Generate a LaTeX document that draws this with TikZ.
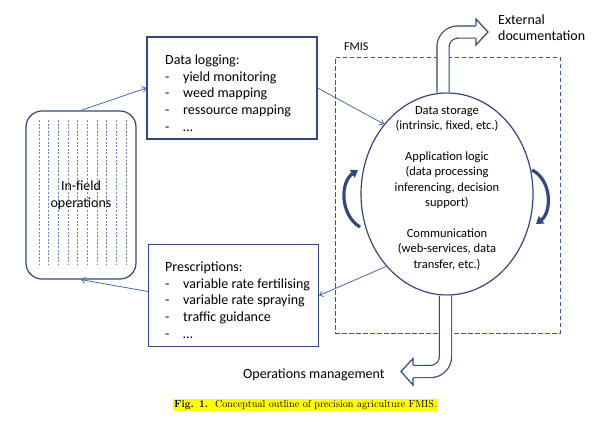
\documentclass[tikz,border=0pt]{standalone}
\usepackage{fontspec}
\newfontfamily\calfont{Carlito}
\usetikzlibrary{arrows.meta,positioning,shapes.geometric}

%colours
\definecolor{boxnavy}{RGB}{50,72,125}
\definecolor{linkblue}{RGB}{72,104,180}
\definecolor{fieldblue}{RGB}{105,128,196}
\definecolor{fmisblue}{RGB}{60,84,158}
\definecolor{marker}{RGB}{255,255,0}

%dash in front of a list item
\newcommand{\listdash}{\makebox[18pt][l]{-}}

\tikzset{
  plain/.style={inner sep=0pt, align=left, font=\calfont\fontsize{14}{16.8}\selectfont},
  listbox/.style={draw=boxnavy, line width=1.2pt, minimum width=170pt, minimum height=102pt, inner sep=0pt},
  listtext/.style={plain, anchor=base west},
  fieldbox/.style={draw=boxnavy, line width=1.2pt, rounded corners=16pt, minimum width=110pt,
    minimum height=168pt, align=center, font=\calfont\fontsize{14}{17}\selectfont},
  fieldline/.style={fieldblue, line width=0.6pt, dash pattern=on 2pt off 1.6pt},
  fmisbox/.style={draw=fmisblue, line width=1pt, dash pattern=on 4.5pt off 2.5pt,
    minimum width=225pt, minimum height=276pt},
  storage/.style={ellipse, draw=boxnavy, line width=1.2pt, minimum width=172pt, minimum height=202pt},
  link/.style={linkblue, line width=0.8pt, -{Straight Barb[length=3.5pt,width=6pt]}},
  bigarrow/.style={draw=boxnavy, line width=1.2pt, double=white, double distance=11pt, rounded corners=15pt},
  arrowhead/.style={draw=boxnavy, fill=white, line width=1.2pt},
  swirl/.style={boxnavy, line width=3.2pt, -{Triangle[length=7pt,width=9pt]}},
}

\begin{document}
\begin{tikzpicture}[x=1pt,y=-1pt]
\useasboundingbox (0,0) rectangle (604,423);

%FMIS frame
\node[fmisbox] (fmis) at (447.5,195) {};
\node[plain, anchor=base west, font=\calfont\fontsize{12}{14}\selectfont] (fmislabel) at (344,50) {FMIS};

%In-field operations
\foreach \i in {0,...,9}
  \draw[fieldline] ({39+9.65*\i},120) -- ({39+9.65*\i},265);
\node[fieldbox] (field) at (81,195) {In-field\\operations};

%Data logging (base = last line)
\node[listbox] (logbox) at (232,88) {};
\node[listtext] (logtext) at (165,131.5) {Data logging:\\\listdash yield monitoring\\\listdash weed mapping\\\listdash ressource mapping\\\listdash …};

%Prescriptions
\node[listbox] (presc) at (233.5,295.5) {};
\node[listtext] (presctext) at (165,338.5) {Prescriptions:\\\listdash variable rate fertilising\\\listdash variable rate spraying\\\listdash traffic guidance\\\listdash …};

%Storage ellipse
\node[storage] (store) at (447,194) {};
\node[plain, align=center, anchor=base, font=\calfont\fontsize{12.5}{15.4}\selectfont] (storetext) at (447,268)
  {Data storage\\(intrinsic, fixed, etc.)\\[15.4pt]Application logic\\(data processing\\inferencing, decision\\support)\\[15.4pt]Communication\\(web-services, data\\transfer, etc.)};

%Block arrows out of the FMIS
\draw[bigarrow] ([xshift=-4pt]store.north) -- (443,32) -- (476,32);
\filldraw[arrowhead] (476,25.3) -- (476,19) -- (488,32) -- (476,45) -- (476,38.7);
\node[plain, anchor=base west, font=\calfont\fontsize{14}{16}\selectfont] (extdoc) at (498,40.5) {External\\documentation};

\draw[bigarrow] ([xshift=-1.5pt]store.south) -- (445.5,371.5) -- (413,371.5);
\filldraw[arrowhead] (413,364.8) -- (413,358.5) -- (401,371.5) -- (413,385) -- (413,378.2);
\node[plain, anchor=base west] (opsman) at (243,378) {Operations management};

%Loops beside the ellipse
\draw[swirl] (360,227) .. controls (340,215) and (340,182) .. (358,170);
\draw[swirl] (532,170) .. controls (552,180) and (552,212) .. (536,224);

%Data flow
\draw[link] (field.north) -- (logbox.west);
\draw[link] (logbox.east) -- (store.132);
\draw[link] (store.230) -- (presc.east);
\draw[link] ([yshift=4pt]presc.west) -- (field.south);

%Caption
\node[fill=marker, inner xsep=1.5pt, inner ysep=1.2pt, font=\fontsize{10.2}{12}\selectfont] (caption) at (305.5,405)
  {\textbf{Fig. 1.}\ \ Conceptual outline of precision agriculture FMIS.};

\end{tikzpicture}
\end{document}
